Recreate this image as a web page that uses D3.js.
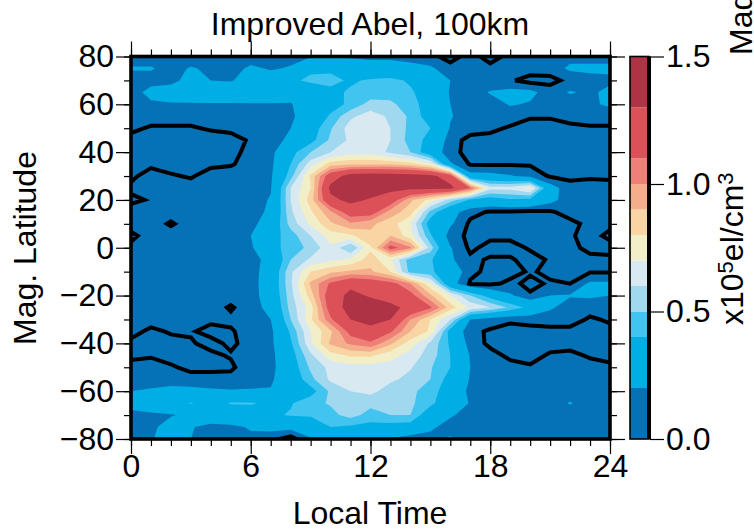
<!DOCTYPE html>
<html>
<head>
<meta charset="utf-8">
<script src="https://cdn.jsdelivr.net/npm/d3@7"></script>
<style>
  body { margin: 0; background: #fff; overflow: hidden; }
  text { font-family: "Liberation Sans", Arial, sans-serif; fill: #000; }
</style>
</head>
<body>
<div id="chart"></div>
<script>
// Local time columns and magnetic latitude rows of the grid
var localTimes = d3.range(0, 25);
var latitudes = d3.range(80, -81, -5);

// Density, in units of 10^3 el/cm3, one row per latitude
var density = [
  [15,15,15,15,15,15,15,15,17,19,19,19,18,18,16,13,6,14,6,13,17,18,17,17,17],
  [21,21,16,21,18,16,22,19,21,38,37,26,25,25,24,22,14,14,13,13,14,15,22,22,22],
  [15,16,17,24,20,19,26,26,38,42,44,38,42,44,38,27,20,14,13,11,7,7,13,17,18],
  [15,24,26,27,28,29,30,30,27,32,36,42,44,46,42,32,19,14,21,24,23,15,21,18,23],
  [14,18,19,19,19,19,19,19,19,30,34,43,54,52,45,33,20,14,15,21,19,14,15,18,22],
  [14,14,14,14,14,14,14,15,18,27,42,58,65,58,48,33,21,14,14,14,11,11,13,14,14],
  [12,9,9,9,11,12,14,16,20,33,49,65,66,60,47,40,19,14,12,9,6,6,8,9,9],
  [7,6,6,6,6,7,11,15,23,36,52,62,65,60,46,36,14,7,7,6,6,6,6,6,6],
  [7,6,6,6,6,7,13,16,36,50,60,65,66,58,50,30,13,7,6,6,6,6,6,6,6],
  [7,8,6,6,8,9,14,17,40,65,85,88,88,88,84,72,22,9,9,9,9,6,6,6,6],
  [8,14,11,9,14,15,15,18,46,82,120,138,142,140,138,135,120,25,24,21,16,9,8,9,9],
  [12,14,14,14,15,15,15,19,60,80,135,142,140,135,135,135,135,110,64,64,74,26,13,13,12],
  [8,11,14,14,14,14,15,21,60,85,125,135,128,120,92,76,55,38,33,38,36,24,14,13,12],
  [14,14,14,14,14,14,16,22,58,78,98,118,118,95,85,47,26,13,9,9,8,9,13,13,12],
  [14,14,9,14,14,14,16,28,54,72,88,98,92,85,70,33,22,8,7,7,7,7,8,12,12],
  [8,14,14,14,14,14,20,35,45,60,75,78,88,90,74,42,14,8,8,8,8,8,9,13,8],
  [12,14,14,14,14,14,18,34,46,52,68,50,78,115,102,55,21,8,13,13,9,8,8,12,13],
  [13,14,14,14,14,14,15,25,50,62,68,72,85,72,44,42,22,12,9,9,13,9,8,8,8],
  [14,14,14,14,14,14,15,27,58,80,88,92,92,80,46,42,32,12,8,7,11,8,8,9,9],
  [14,14,14,14,14,14,15,28,58,92,112,125,120,115,100,72,26,9,8,12,8,11,10,22,22],
  [14,14,14,14,14,14,15,27,56,85,120,135,128,122,115,92,70,50,34,22,11,20,21,22,20],
  [14,14,14,14,14,9,15,24,54,75,118,138,140,135,125,112,85,68,60,48,36,22,14,13,13],
  [14,14,14,15,12,12,15,20,50,78,108,130,138,130,100,80,60,20,14,11,12,13,13,9,11],
  [13,8,11,11,7,9,14,17,42,70,88,115,122,112,90,78,34,12,9,8,8,8,8,8,8],
  [8,7,7,9,13,8,14,17,38,68,92,102,108,92,75,58,38,15,8,7,7,7,7,7,7],
  [8,9,7,7,8,11,15,16,34,58,76,82,82,74,66,55,40,19,13,8,7,11,12,9,7],
  [13,14,11,8,8,8,17,16,32,52,63,66,66,66,61,51,40,20,14,13,11,13,13,13,12],
  [13,14,15,13,13,14,16,18,30,47,62,64,65,62,57,50,35,19,14,14,14,14,14,14,14],
  [20,22,24,24,22,21,21,21,28,35,52,60,63,55,52,46,31,17,14,14,14,14,14,13,13],
  [24,27,33,41,34,41,41,38,39,47,51,54,53,51,52,43,30,19,14,14,14,14,21,14,14],
  [17,18,19,23,30,29,33,38,41,42,47,54,46,50,50,30,22,14,13,13,13,13,13,13,13],
  [14,17,26,21,16,18,21,24,24,27,40,38,36,35,33,23,14,13,13,13,13,13,13,13,13],
  [15,19,26,20,15,15,18,13,6,19,25,28,21,19,14,15,22,13,13,13,13,13,13,13,13]
];

// Colour bands and the level of the black contour
var bandEdges = [0, 20, 40, 50, 60, 70, 80, 90, 100, 110, 130, 150];
var bandColors = ["#0571b7", "#00aee6", "#41c4f0", "#9fd8ef", "#d9e9f1", "#f2efc8",
                  "#f8d5a3", "#f4ae8c", "#ef8078", "#dc5158", "#ae3445"];
var blackLevel = 10;

// Tick values
var timeMajor = [0, 6, 12, 18, 24];
var timeMinor = d3.range(0, 25);
var latMajor = [-80, -60, -40, -20, 0, 20, 40, 60, 80];
var latMinor = d3.range(-80, 81, 10);
var barTicks = [0, 50, 100, 150];

var width = 754;
var height = 531;
var fontSize = 32;

var svg = d3.select("#chart")
  .append("svg")
  .attr("width", width)
  .attr("height", height)
  .style("display", "block");

var x = d3.scaleLinear().domain([0, 24]).range([131, 610]);
var y = d3.scaleLinear().domain([-80, 80]).range([439, 56.5]);
var barY = d3.scaleLinear().domain([0, 150]).range([439, 56.5]);

svg.append("clipPath").attr("id", "plot-clip")
  .append("rect")
  .attr("x", x(0)).attr("y", y(80))
  .attr("width", x(24) - x(0)).attr("height", y(-80) - y(80));

// d3.contours puts each value at the centre of its grid cell
var nx = localTimes.length;
var ny = latitudes.length;
var gridX = d3.scaleLinear().domain([0.5, nx - 0.5]).range([x(localTimes[0]), x(localTimes[nx - 1])]);
var gridY = d3.scaleLinear().domain([0.5, ny - 0.5]).range([y(latitudes[0]), y(latitudes[ny - 1])]);
var path = d3.geoPath(d3.geoTransform({
  point: function(px, py) { this.stream.point(gridX(px), gridY(py)); }
}));
var contours = d3.contours().size([nx, ny]);
var values = density.flat();

var plot = svg.append("g").attr("clip-path", "url(#plot-clip)");

plot.append("rect")
  .attr("x", x(0)).attr("y", y(80))
  .attr("width", x(24) - x(0)).attr("height", y(-80) - y(80))
  .attr("fill", bandColors[0]);

// Filled bands, painted from low to high
plot.selectAll("path.band")
  .data(contours.thresholds(bandEdges.slice(1, -1))(values))
  .enter()
  .append("path")
  .attr("class", "band")
  .attr("d", path)
  .attr("fill", function(d, i) { return bandColors[i + 1]; });

// Black contour line, on negated values so saddles keep the low pockets apart
plot.append("path")
  .datum(contours.contour(values.map(function(d) { return -d; }), -blackLevel))
  .attr("d", path)
  .attr("fill", "none")
  .attr("stroke", "#000")
  .attr("stroke-width", 4)
  .attr("stroke-linejoin", "miter");

// Axes: major and minor ticks, all four sides
function styleAxis(g, w) {
  g.select(".domain").remove();
  g.selectAll("line").attr("stroke", "#000").attr("stroke-width", w);
  g.selectAll("text").style("font-size", fontSize + "px").attr("fill", "#000");
}

function noLabel() { return ""; }
function latLabel(d) { return d < 0 ? "\u2212" + Math.abs(d) : String(d); }

svg.append("g").attr("transform", "translate(0," + y(-80) + ")")
  .call(d3.axisBottom(x).tickValues(timeMinor).tickSize(7).tickFormat(noLabel))
  .call(styleAxis, 1.2);
svg.append("g").attr("transform", "translate(0," + y(-80) + ")")
  .call(d3.axisBottom(x).tickValues(timeMajor).tickSize(15).tickPadding(0).tickFormat(d3.format("d")))
  .call(styleAxis, 1.2);
svg.append("g").attr("transform", "translate(0," + y(80) + ")")
  .call(d3.axisTop(x).tickValues(timeMinor).tickSize(7).tickFormat(noLabel))
  .call(styleAxis, 1.2);
svg.append("g").attr("transform", "translate(0," + y(80) + ")")
  .call(d3.axisTop(x).tickValues(timeMajor).tickSize(15).tickFormat(noLabel))
  .call(styleAxis, 1.2);

svg.append("g").attr("transform", "translate(" + x(0) + ",0)")
  .call(d3.axisLeft(y).tickValues(latMinor).tickSize(7).tickFormat(noLabel))
  .call(styleAxis, 1.2);
svg.append("g").attr("transform", "translate(" + x(0) + ",0)")
  .call(d3.axisLeft(y).tickValues(latMajor).tickSize(15).tickPadding(2).tickFormat(latLabel))
  .call(styleAxis, 1.2);
svg.append("g").attr("transform", "translate(" + x(24) + ",0)")
  .call(d3.axisRight(y).tickValues(latMinor).tickSize(7).tickFormat(noLabel))
  .call(styleAxis, 1.2);
svg.append("g").attr("transform", "translate(" + x(24) + ",0)")
  .call(d3.axisRight(y).tickValues(latMajor).tickSize(15).tickFormat(noLabel))
  .call(styleAxis, 1.2);

// Plot frame
svg.append("rect")
  .attr("x", x(0)).attr("y", y(80))
  .attr("width", x(24) - x(0)).attr("height", y(-80) - y(80))
  .attr("fill", "none")
  .attr("stroke", "#000")
  .attr("stroke-width", 3.6);

// Colour bar
var barLeft = 630;
var barRight = 649;
svg.append("g").selectAll("rect")
  .data(bandColors)
  .enter()
  .append("rect")
  .attr("x", barLeft)
  .attr("width", barRight - barLeft)
  .attr("y", function(d, i) { return barY(bandEdges[i + 1]); })
  .attr("height", function(d, i) { return barY(bandEdges[i]) - barY(bandEdges[i + 1]); })
  .attr("fill", function(d) { return d; });

svg.append("rect")
  .attr("x", barLeft).attr("y", barY(150))
  .attr("width", barRight - barLeft).attr("height", barY(0) - barY(150))
  .attr("fill", "none")
  .attr("stroke", "#000")
  .attr("stroke-width", 1.6);
svg.append("line")
  .attr("x1", barRight).attr("x2", barRight)
  .attr("y1", barY(150)).attr("y2", barY(0))
  .attr("stroke", "#000")
  .attr("stroke-width", 4);

svg.append("g").attr("transform", "translate(" + (barRight + 1) + ",0)")
  .call(d3.axisRight(barY).tickValues(barTicks).tickSize(14).tickPadding(2)
    .tickFormat(function(d) { return (d / 100).toFixed(1); }))
  .call(styleAxis, 1.2);

// Titles and labels
svg.append("text")
  .attr("x", 370).attr("y", 35)
  .attr("text-anchor", "middle")
  .style("font-size", fontSize + "px")
  .text("Improved Abel, 100km");

svg.append("text")
  .attr("x", 370).attr("y", 524)
  .attr("text-anchor", "middle")
  .style("font-size", fontSize + "px")
  .text("Local Time");

svg.append("text")
  .attr("transform", "translate(36,248) rotate(-90)")
  .attr("text-anchor", "middle")
  .style("font-size", fontSize + "px")
  .text("Mag. Latitude");

var unit = svg.append("text")
  .attr("transform", "translate(743,325) rotate(-90)")
  .style("font-size", fontSize + "px");
unit.append("tspan").text("x10");
unit.append("tspan").attr("dy", -10).style("font-size", "22px").text("5");
unit.append("tspan").attr("dy", 10).text("el/cm");
unit.append("tspan").attr("dy", -10).style("font-size", "22px").text("3");

// Label of the next panel, cut by the edge of the picture
svg.append("text")
  .attr("transform", "translate(752,55) rotate(-90)")
  .style("font-size", fontSize + "px")
  .text("Mag. Latitude");
</script>
</body>
</html>
